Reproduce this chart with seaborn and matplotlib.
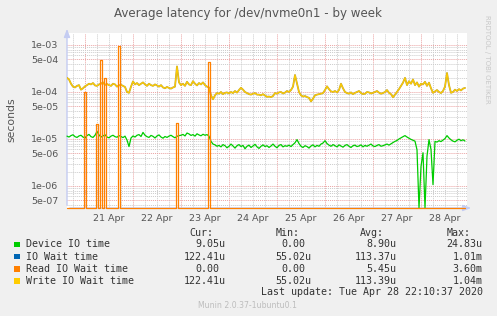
import numpy as np
import pandas as pd
import seaborn as sns
import matplotlib
matplotlib.use("Agg")
import matplotlib.pyplot as plt
from matplotlib.patches import Rectangle
from matplotlib.ticker import FixedLocator, FuncFormatter

# hourly samples, hour 0 = Mon Apr 20 15:00, last = Tue Apr 28 22:00
n_hours = 200

# Write IO wait time, microseconds
write_wait_us = [
    200, 185, 150, 130, 125, 135, 140, 112, 120, 132,
    140, 150, 145, 155, 138, 135, 145, 150, 160, 142,
    148, 140, 135, 150, 145, 130, 138, 142, 135, 128,
    100, 96, 130, 168, 145, 155, 140, 150, 160, 145,
    135, 150, 140, 135, 145, 138, 130, 140, 125, 120,
    128, 122, 118, 125, 130, 350, 160, 140, 150, 135,
    165, 145, 140, 170, 150, 138, 155, 145, 160, 140,
    130, 125, 85, 70, 85, 95, 92, 100, 90, 96,
    98, 93, 100, 95, 105, 97, 110, 123, 112, 100,
    95, 90, 88, 92, 95, 88, 88, 85, 90, 84,
    79, 80, 78, 82, 95, 92, 98, 100, 93, 97,
    105, 100, 110, 130, 230, 150, 100, 85, 80, 82,
    78, 75, 63, 72, 85, 88, 90, 92, 95, 110,
    132, 115, 103, 100, 105, 98, 110, 150, 120, 100,
    95, 92, 98, 90, 96, 100, 105, 95, 90, 92,
    100, 98, 93, 96, 100, 105, 97, 92, 95, 100,
    110, 96, 90, 77, 88, 100, 115, 135, 158, 200,
    140, 170, 150, 185, 140, 160, 130, 150, 145, 165,
    135, 158, 120, 96, 103, 110, 100, 95, 105, 130,
    254, 140, 96, 100, 112, 105, 115, 108, 118, 122,
]

# IO wait time follows the write wait almost exactly
io_wait_us = list(write_wait_us)

# Device IO time, microseconds
device_io_us = [
    11.5, 11.0, 11.8, 12.3, 11.2, 10.8, 11.6, 12.0, 11.0, 10.5,
    11.8, 12.5, 11.2, 10.8, 12.0, 14.5, 12.2, 11.0, 11.6, 12.3,
    11.0, 10.6, 11.5, 12.0, 11.2, 10.9, 11.8, 11.3, 10.7, 11.5,
    9.5, 6.9, 10.5, 11.6, 11.0, 12.0, 12.4, 11.3, 13.8, 12.0,
    11.2, 10.8, 11.9, 11.4, 10.5, 11.6, 12.2, 11.0, 10.4, 11.3,
    10.8, 11.5, 12.0, 11.2, 10.6, 11.4, 11.8, 12.0, 12.5, 11.6,
    13.4, 12.8, 11.9, 12.4, 11.5, 12.9, 12.2, 11.7, 12.6, 12.0,
    12.4, 11.5, 8.9, 7.8, 7.5, 7.0, 7.3, 6.8, 7.6, 7.2,
    6.5, 7.0, 7.8, 7.1, 6.4, 7.2, 7.6, 6.9, 7.3, 6.2,
    7.0, 7.4, 6.6, 7.1, 7.7, 6.8, 6.3, 7.0, 7.5, 6.9,
    7.2, 6.6, 7.1, 7.8, 7.0, 6.5, 7.3, 7.6, 6.8, 7.2,
    7.0, 7.4, 6.9, 7.6, 8.3, 9.7, 8.0, 7.0, 6.6, 7.2,
    6.9, 6.4, 7.1, 7.5, 6.8, 7.3, 7.0, 7.8, 8.2, 9.2,
    8.0, 7.4, 7.0, 7.6, 7.2, 6.8, 7.5, 7.1, 6.7, 7.3,
    7.6, 7.0, 6.6, 7.2, 7.4, 6.9, 7.1, 7.5, 6.8, 7.3,
    7.0, 7.4, 7.8, 7.1, 6.9, 7.3, 7.6, 7.0, 7.2, 7.5,
    7.8, 7.4, 7.9, 8.4, 8.9, 9.3, 10.0, 10.6, 11.2, 11.8,
    11.0, 10.4, 9.8, 9.4, 9.0, 5.9, 0.0, 2.6, 5.1, 0.0,
    4.3, 9.7, 6.0, 1.07, 8.9, 8.6, 9.2, 8.8, 9.5, 10.2,
    11.8, 10.5, 9.6, 9.0, 8.7, 9.4, 9.9, 9.2, 9.6, 9.05,
]

# Read IO wait time is 0 except a few spikes (hour index, microseconds)
read_spike_hours = [9, 15, 17, 19, 26, 55, 71]
read_spike_us = [100, 21, 490, 200, 930, 22, 430]

day_labels = ["21 Apr", "22 Apr", "23 Apr", "24 Apr", "25 Apr", "26 Apr", "27 Apr", "28 Apr"]
first_midnight = 9  # hour index of Apr 21 00:00

legend_names = ["Device IO time", "IO Wait time", "Read IO Wait time", "Write IO Wait time"]
legend_colors = ["#00CC00", "#0066B3", "#FF8000", "#FFCC00"]
cur_vals = ["9.05u", "122.41u", "0.00", "122.41u"]
min_vals = ["0.00", "55.02u", "0.00", "55.02u"]
avg_vals = ["8.90u", "113.37u", "5.45u", "113.39u"]
max_vals = ["24.83u", "1.01m", "3.60m", "1.04m"]

W, H = 497, 316
YMIN, YMAX = 3.4e-7, 1.8e-3


def fx(px):
    return px / W


def fy(py):
    return 1 - py / H


hours = np.arange(n_hours)
read_us = np.zeros(n_hours)
read_us[read_spike_hours] = read_spike_us


def to_seconds(us):
    s = np.asarray(us, dtype=float) * 1e-6
    return np.where(s <= 0, YMIN, s)


df = pd.DataFrame({
    "hour": hours,
    "device": to_seconds(device_io_us),
    "iowait": to_seconds(io_wait_us),
    "read": to_seconds(read_us),
    "write": to_seconds(write_wait_us),
})

sns.set_theme(style="white")
plt.rcParams["font.family"] = ["DejaVu Sans"]

fig = plt.figure(figsize=(W / 100, H / 100), dpi=100, facecolor="#F0F0F0")
ax = fig.add_axes([fx(67), fy(208), 400 / W, 175 / H])
ax.set_facecolor("white")

common = dict(estimator=None, ax=ax, legend=False)
sns.lineplot(data=df, x="hour", y="device", color=legend_colors[0], lw=0.9, clip_on=False, **common)
sns.lineplot(data=df, x="hour", y="iowait", color="#b9a23c", lw=1.3, **common)
sns.lineplot(data=df, x="hour", y="write", color=legend_colors[3], lw=0.8, **common)
sns.lineplot(data=df, x="hour", y="read", color=legend_colors[2], lw=0.9, clip_on=False,
             drawstyle="steps-mid", **common)

ax.set_yscale("log")
ax.set_ylim(YMIN, YMAX)
ax.set_xlim(0, n_hours)

# y grid: labelled lines at 1e and 5e, others minor
major_y = [1e-3, 5e-4, 1e-4, 5e-5, 1e-5, 5e-6, 1e-6, 5e-7]
minor_y = [m * 10.0 ** e for e in range(-7, -2) for m in (2, 3, 4, 6, 7, 8, 9)]
ax.yaxis.set_major_locator(FixedLocator(major_y))
ax.yaxis.set_minor_locator(FixedLocator(minor_y))
ax.yaxis.set_major_formatter(FuncFormatter(lambda v, p: f"{v:.0e}"))
ax.yaxis.set_minor_formatter(FuncFormatter(lambda v, p: ""))

# x grid: midnights red, every 6 hours grey, day labels at noon
midnights = [first_midnight + 24 * k for k in range(len(day_labels))]
six_hours = [h for h in range(first_midnight - 6, n_hours + 1, 6) if (h - first_midnight) % 24 != 0 and h >= 0]
noon_to_label = {first_midnight + 12 + 24 * k: lab for k, lab in enumerate(day_labels)}
ax.xaxis.set_major_locator(FixedLocator(midnights))
ax.xaxis.set_minor_locator(FixedLocator(six_hours))
ax.xaxis.set_major_formatter(FuncFormatter(lambda v, p: ""))
ax.xaxis.set_minor_formatter(FuncFormatter(lambda v, p: noon_to_label.get(int(round(v)), "")))

dots = (0, (1, 1))
ax.grid(which="major", color="#eba3a3", linestyle=dots, linewidth=0.7)
ax.grid(which="minor", color="#cccccc", linestyle=dots, linewidth=0.7)
ax.set_axisbelow(True)
ax.tick_params(which="both", length=0, colors="#555555", labelsize=6.8)
ax.tick_params(axis="y", which="major", pad=6)
ax.tick_params(axis="x", which="minor", pad=4)
ax.set_xlabel("")
ax.set_ylabel("")
for sp in ax.spines.values():
    sp.set_visible(False)

# axes with arrow heads
axis_col = "#c4ccf2"
ax.annotate("", xy=(0, 1 + 7 / 175), xytext=(0, 0), xycoords="axes fraction",
            arrowprops=dict(arrowstyle="-|>,head_width=0.15,head_length=0.4", color=axis_col, lw=1), zorder=1)
ax.annotate("", xy=(1 + 7 / 400, 0), xytext=(0, 0), xycoords="axes fraction",
            arrowprops=dict(arrowstyle="-|>,head_width=0.15,head_length=0.4", color=axis_col, lw=1), zorder=1)

# texts
fig.text(0.5, fy(13), "Average latency for /dev/nvme0n1 - by week", ha="center", va="center",
         fontsize=8.6, color="#555555")
fig.text(fx(11), fy(120), "seconds", rotation=90, ha="center", va="center", fontsize=7.8, color="#555555")
fig.text(fx(487), fy(15), "RRDTOOL / TOBI OETIKER", rotation=270, ha="center", va="top",
         fontsize=5, color="#c8c8c8")

mono = dict(family="DejaVu Sans Mono", fontsize=7.2, color="#333333", va="center")
col_right = [225.7, 311.7, 396.7, 482.7]
for x_r, head in zip(col_right, ["Cur:", "Min:", "Avg:", "Max:"]):
    fig.text(fx(x_r - 12.5), fy(232.7), head, ha="right", **mono)

row_y = [244.3, 256.5, 268.7, 280.7]
for r, (name, col) in enumerate(zip(legend_names, legend_colors)):
    y = row_y[r]
    fig.add_artist(Rectangle((fx(14), fy(y + 2.8)), 5.5 / W, 5.5 / H, transform=fig.transFigure,
                             facecolor=col, edgecolor="none"))
    fig.text(fx(26), fy(y), name, ha="left", **mono)
    for x_r, vals in zip(col_right, [cur_vals, min_vals, avg_vals, max_vals]):
        v = vals[r]
        shift = 0 if v[-1].isalpha() else 6.0
        fig.text(fx(x_r - shift), fy(y), v, ha="right", **mono)

fig.text(fx(482.7), fy(292), "Last update: Tue Apr 28 22:10:37 2020", ha="right", **mono)
fig.text(fx(248), fy(305), "Munin 2.0.37-1ubuntu0.1", ha="center", va="center", fontsize=5.6, color="#bdbdbd")

fig.savefig("out.png", dpi=100, facecolor=fig.get_facecolor())
